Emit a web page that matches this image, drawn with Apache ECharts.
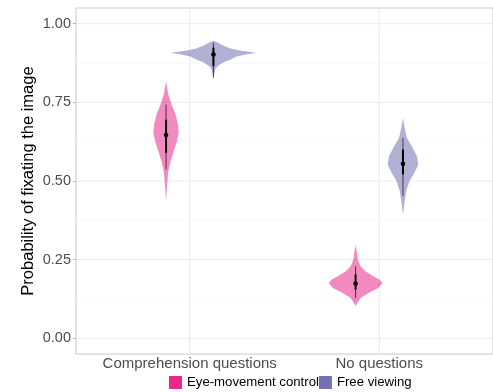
<!DOCTYPE html>
<html lang="en">
<head>
    <meta charset="UTF-8">
    <title>Violin plot - probability of fixating the image</title>
    <script src="https://cdn.jsdelivr.net/npm/echarts@6/dist/echarts.min.js"></script>
    <style>
        html, body, #main {
            width: 493px;
            height: 392px;
            padding: 0;
            margin: 0;
            background: #fff;
        }
    </style>
</head>
<body>
<div id="main"></div>
<script>
    var categories = ["Comprehension questions", "No questions"];
    var groups = ["Eye-movement control", "Free viewing"];
    var groupColors = ["#e7298a", "#7570b3"];

    // density outlines: y values and half widths (in category units)
    var eyeCqY = [0.817, 0.775, 0.743, 0.712, 0.680, 0.653, 0.627, 0.595, 0.563, 0.531, 0.499, 0.436];
    var eyeCqW = [0, 0.012, 0.029, 0.050, 0.063, 0.067, 0.058, 0.041, 0.024, 0.012, 0.007, 0];
    var freeCqY = [0.946, 0.940, 0.931, 0.921, 0.915, 0.908, 0.902, 0.896, 0.886, 0.877, 0.865, 0.855, 0.842, 0.829];
    var freeCqW = [0, 0.022, 0.051, 0.091, 0.139, 0.226, 0.170, 0.123, 0.091, 0.051, 0.022, 0.010, 0.005, 0];
    var eyeNqY = [0.298, 0.272, 0.250, 0.229, 0.213, 0.197, 0.187, 0.176, 0.160, 0.144, 0.128, 0.113, 0.102];
    var eyeNqW = [0, 0.007, 0.012, 0.026, 0.051, 0.094, 0.125, 0.142, 0.120, 0.068, 0.026, 0.010, 0];
    var freeNqY = [0.701, 0.669, 0.637, 0.606, 0.579, 0.552, 0.526, 0.499, 0.468, 0.436, 0.393];
    var freeNqW = [0, 0.009, 0.021, 0.051, 0.074, 0.081, 0.060, 0.034, 0.017, 0.009, 0];

    // medians and intervals per category
    var eyeMedian = [0.646, 0.174];
    var freeMedian = [0.902, 0.555];
    var eyeInner = [[0.590, 0.695], [0.155, 0.203]];
    var freeInner = [[0.865, 0.924], [0.521, 0.600]];
    var eyeOuter = [[0.537, 0.743], [0.128, 0.229]];
    var freeOuter = [[0.828, 0.940], [0.452, 0.637]];

    var yTicks = [0, 0.25, 0.5, 0.75, 1];
    var yMinor = [0.125, 0.375, 0.625, 0.875];
    var xTicks = [1, 2];

    var violins = [
        {outlines: [[eyeCqY, eyeCqW], [eyeNqY, eyeNqW]], median: eyeMedian, inner: eyeInner, outer: eyeOuter},
        {outlines: [[freeCqY, freeCqW], [freeNqY, freeNqW]], median: freeMedian, inner: freeInner, outer: freeOuter}
    ];
    var dodge = 0.125;
    var font = "Liberation Sans, Arial, Helvetica, sans-serif";

    var myChart = echarts.init(document.getElementById("main"));

    function violinSeries(g) {
        var v = violins[g];
        return {
            name: groups[g],
            type: "custom",
            z: 3,
            itemStyle: {color: groupColors[g]},
            data: categories.map(function (c, i) { return [i + 1]; }),
            renderItem: function (params, api) {
                var i = params.dataIndex;
                var xc = i + 1 + (g === 0 ? -dodge : dodge);
                var ys = v.outlines[i][0], ws = v.outlines[i][1];
                var pts = [];
                for (var k = 0; k < ys.length; k++) {
                    pts.push(api.coord([xc + ws[k], ys[k]]));
                }
                for (var k = ys.length - 1; k >= 0; k--) {
                    pts.push(api.coord([xc - ws[k], ys[k]]));
                }
                var oLo = api.coord([xc, v.outer[i][0]]), oHi = api.coord([xc, v.outer[i][1]]);
                var iLo = api.coord([xc, v.inner[i][0]]), iHi = api.coord([xc, v.inner[i][1]]);
                var m = api.coord([xc, v.median[i]]);
                return {
                    type: "group",
                    children: [
                        {type: "polygon", shape: {points: pts}, style: {fill: groupColors[g], opacity: 0.55}},
                        {type: "line", shape: {x1: oLo[0], y1: oLo[1], x2: oHi[0], y2: oHi[1]},
                            style: {stroke: "#000", lineWidth: 0.8, opacity: 0.85}},
                        {type: "line", shape: {x1: iLo[0], y1: iLo[1], x2: iHi[0], y2: iHi[1]},
                            style: {stroke: "#000", lineWidth: 2}},
                        {type: "circle", shape: {cx: m[0], cy: m[1], r: 2.3}, style: {fill: "#000"}}
                    ]
                };
            }
        };
    }

    // panel grid lines drawn on the data scale
    var gridSeries = {
        name: "grid",
        type: "custom",
        silent: true,
        z: 1,
        data: yMinor.map(function (y) { return ["h", y, 0]; })
            .concat(yTicks.map(function (y) { return ["h", y, 1]; }))
            .concat(xTicks.map(function (x) { return ["v", x, 1]; })),
        renderItem: function (params, api) {
            var d = gridSeries.data[params.dataIndex];
            var a, b;
            if (d[0] === "h") {
                a = api.coord([0.4, d[1]]);
                b = api.coord([2.6, d[1]]);
            } else {
                a = api.coord([d[1], -0.05]);
                b = api.coord([d[1], 1.05]);
            }
            return {
                type: "line",
                shape: {x1: a[0], y1: a[1], x2: b[0], y2: b[1]},
                style: {stroke: d[2] ? "#ebebeb" : "#f5f5f5", lineWidth: d[2] ? 1 : 0.7}
            };
        }
    };

    myChart.setOption({
        animation: false,
        backgroundColor: "#fff",
        textStyle: {fontFamily: font},
        grid: {
            left: 76,
            top: 8,
            width: 428,
            bottom: 38,
            show: true,
            borderColor: "#c8c8c8",
            borderWidth: 1,
            backgroundColor: "#fff"
        },
        legend: {
            data: groups,
            left: 169,
            top: 376,
            padding: 0,
            itemWidth: 13,
            itemHeight: 13,
            itemGap: 0,
            icon: "rect",
            selectedMode: false,
            textStyle: {fontFamily: font, fontSize: 13.2, color: "#000"}
        },
        xAxis: {
            type: "value",
            min: 0.4,
            max: 2.6,
            splitLine: {show: false},
            axisLine: {show: false},
            axisTick: {show: true, customValues: xTicks, length: 3, lineStyle: {color: "#b3b3b3"}},
            axisLabel: {
                customValues: xTicks,
                margin: 2,
                fontFamily: font,
                fontSize: 15,
                color: "#4d4d4d",
                formatter: function (v) { return categories[Math.round(v) - 1]; }
            }
        },
        yAxis: {
            type: "value",
            min: -0.05,
            max: 1.05,
            name: "Probability of fixating the image",
            nameLocation: "middle",
            nameRotate: 90,
            nameGap: 39,
            nameMoveOverlap: false,
            nameTextStyle: {fontFamily: font, fontSize: 16.5, color: "#000"},
            splitLine: {show: false},
            axisLine: {show: false},
            axisTick: {show: true, customValues: yTicks, length: 3, lineStyle: {color: "#b3b3b3"}},
            axisLabel: {
                customValues: yTicks,
                margin: 5,
                fontFamily: font,
                fontSize: 14.5,
                color: "#4d4d4d",
                formatter: function (v) { return v.toFixed(2); }
            }
        },
        series: [gridSeries, violinSeries(0), violinSeries(1)]
    });
</script>
</body>
</html>
